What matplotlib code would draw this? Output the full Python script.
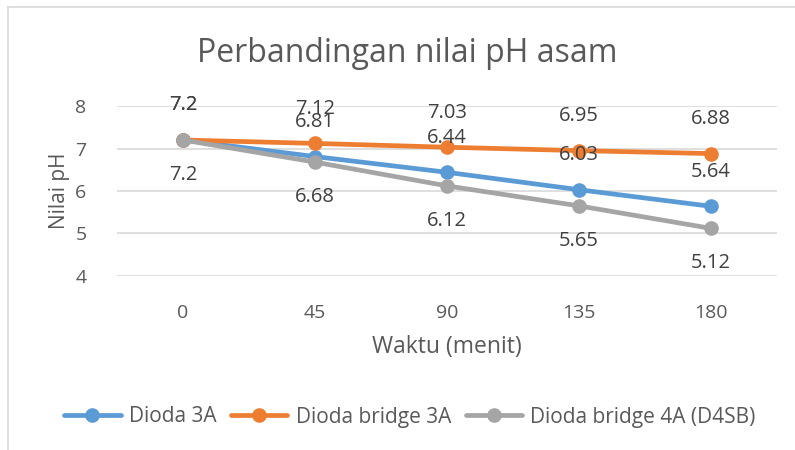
import matplotlib
matplotlib.use("Agg")
import matplotlib.pyplot as plt
from matplotlib.lines import Line2D

plt.rcParams['font.family'] = ['Open Sans', 'DejaVu Sans']

categories = ["0", "45", "90", "135", "180"]
dioda_3a = [7.2, 6.81, 6.44, 6.03, 5.64]
dioda_bridge_3a = [7.2, 7.12, 7.03, 6.95, 6.88]
dioda_bridge_4a = [7.2, 6.68, 6.12, 5.65, 5.12]
series_names = ["Dioda 3A", "Dioda bridge 3A", "Dioda bridge 4A (D4SB)"]
yticks = [4, 5, 6, 7, 8]

colors = ["#5B9BD5", "#ED7D31", "#A5A5A5"]
text_c = "#595959"

fig = plt.figure(figsize=(7.95, 4.5), dpi=100)
ax = fig.add_axes([117/795, 1-276/450, 660/795, 170/450])

x = list(range(len(categories)))
data = [dioda_3a, dioda_bridge_3a, dioda_bridge_4a]
for vals, c in zip(data, colors):
    ax.plot(x, vals, color=c, lw=3.4, marker='o', ms=9.5, solid_capstyle='round', zorder=3)

# data labels
for vals, c, off in zip(data, colors, [25, 25, -25]):
    for xi, v in zip(x, vals):
        ax.annotate(f"{v:g}", (xi, v), xytext=(0, off), textcoords='offset points',
                    ha='center', va='center', fontsize=14.5, color='#404040', zorder=5)

ax.set_xlim(-0.5, 4.5)
ax.set_ylim(4, 8)
ax.set_yticks(yticks)
ax.set_xticks(x)
ax.set_xticklabels(categories)
ax.grid(axis='y', color='#D9D9D9', lw=1.2)
ax.set_axisbelow(True)
for s in ax.spines.values():
    s.set_visible(False)
ax.tick_params(length=0, labelsize=14, colors=text_c)
ax.tick_params(axis='x', pad=20)
ax.tick_params(axis='y', pad=22)

fig.text(407/795, 1-53/450, "Perbandingan nilai pH asam", ha='center', va='center',
         fontsize=23, color=text_c)
fig.text(447/795, 1-347/450, "Waktu (menit)", ha='center', va='center', fontsize=16.5, color=text_c)
fig.text(59/795, 1-191/450, "Nilai pH", ha='center', va='center', fontsize=15, color=text_c, rotation=90)

handles = [Line2D([0], [0], color=c, lw=3.4, marker='o', ms=9.5, solid_capstyle='round') for c in colors]
fig.legend(handles, series_names, loc='center', bbox_to_anchor=(410/795, 1-417/450), ncol=3,
           frameon=False, fontsize=15, handlelength=2.7, handletextpad=0.4, columnspacing=0.7,
           labelcolor=text_c)

# chart border
fig.add_artist(Line2D([8/795, 8/795], [1-7/450, 0], transform=fig.transFigure, color='#D9D9D9', lw=1.2))
fig.add_artist(Line2D([8/795, 1], [1-7/450, 1-7/450], transform=fig.transFigure, color='#D9D9D9', lw=1.2))

fig.savefig("out.png", dpi=100)
